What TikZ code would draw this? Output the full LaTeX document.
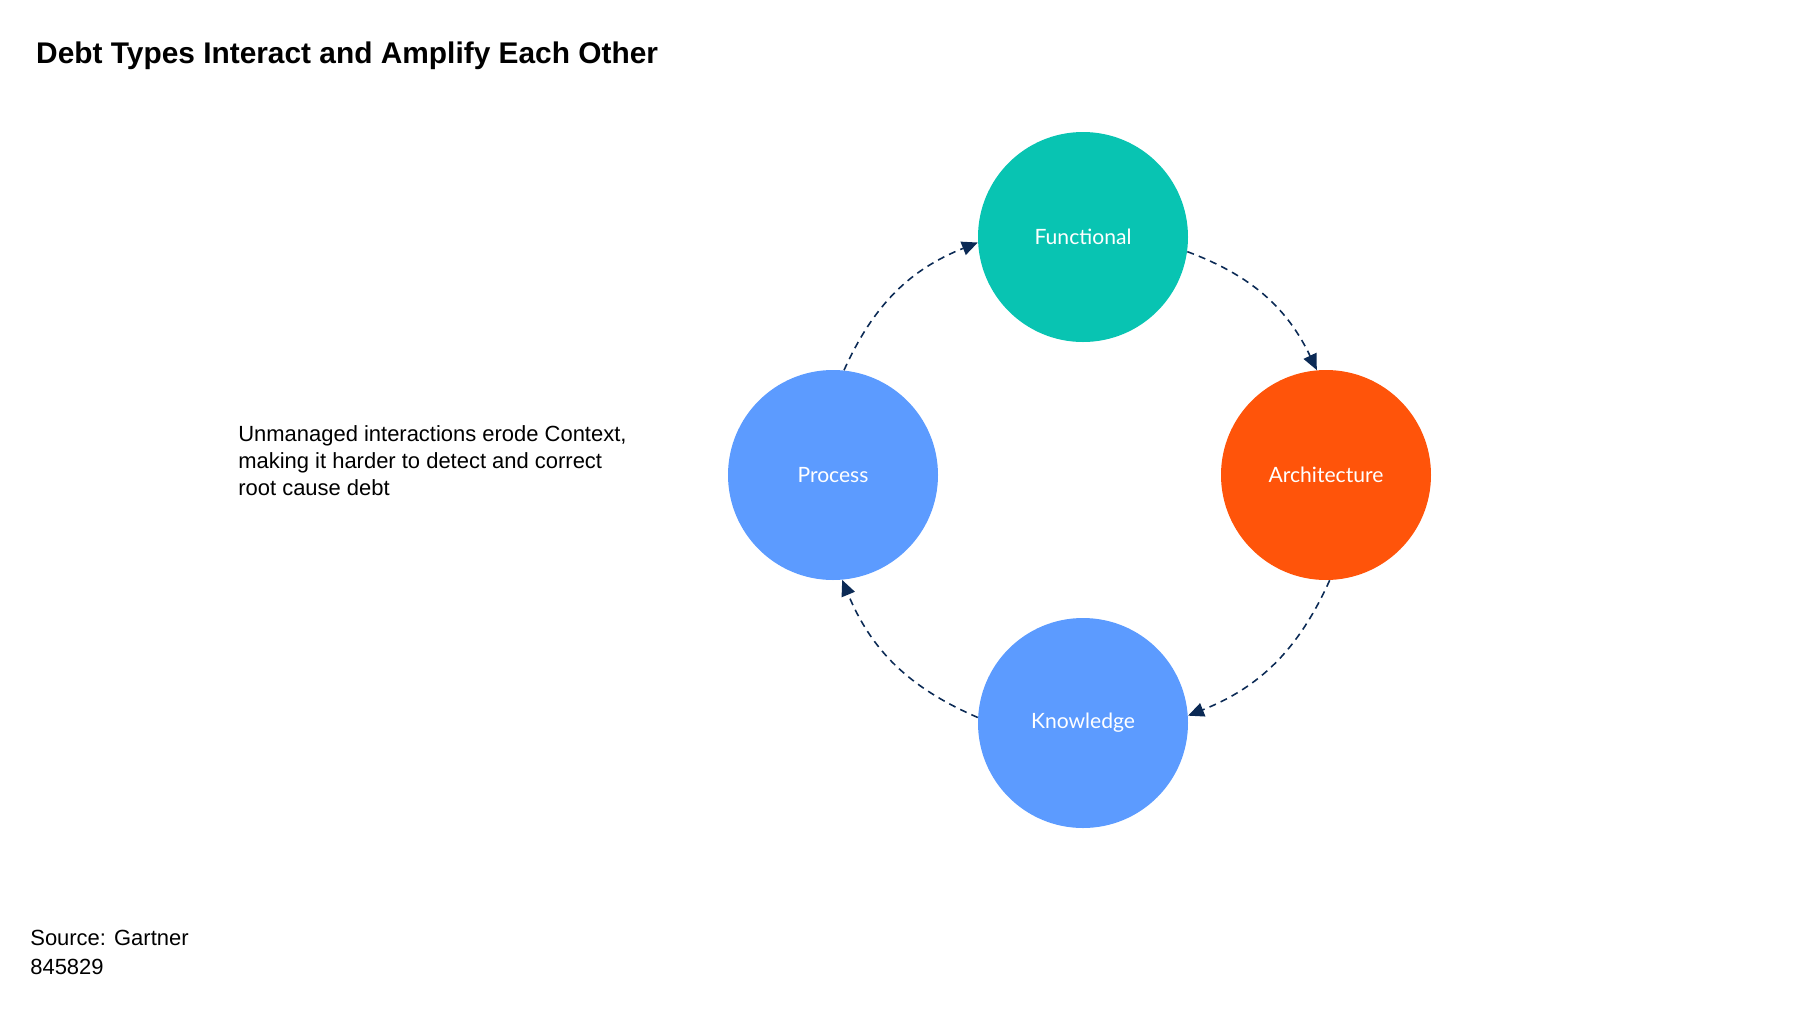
\documentclass[tikz,border=0pt]{standalone}
\usepackage{fontspec}
\setmainfont{Liberation Sans}
\newfontfamily\labelfont{Lato}
\usetikzlibrary{arrows.meta}
\definecolor{tealc}{HTML}{08C4B2}
\definecolor{orangec}{HTML}{FF540A}
\definecolor{bluec}{HTML}{5C9BFF}
\definecolor{navyc}{HTML}{0B2A55}
\tikzset{
  debt/.style={circle, minimum size=210*0.02cm, inner sep=0pt, text=white, font=\labelfont\fontsize{12}{14}\selectfont},
  link/.style={navyc, dashed, line width=0.9pt, dash pattern=on 4pt off 3pt, -{Triangle[length=9pt,width=8pt]}}
}
\begin{document}
\begin{tikzpicture}[x=0.02cm, y=-0.02cm]
  \useasboundingbox (0,0) rectangle (1800,1012);
  % Nodes
  \node (title) [anchor=base west, font=\bfseries\fontsize{17}{20}\selectfont] at (30,63) {Debt Types Interact and Amplify Each Other};
  \node (functional) [debt, fill=tealc] at (1083,237) {Functional};
  \node (architecture) [debt, fill=orangec] at (1326,475) {Architecture};
  \node (process) [debt, fill=bluec] at (833,475) {Process};
  \node (knowledge) [debt, fill=bluec] at (1083,723) {Knowledge};
  \node (note) [anchor=north west, align=left, inner sep=0pt, font=\fontsize{12.5}{15.5}\selectfont] at (238,425) {Unmanaged interactions erode Context,\\making it harder to detect and correct\\root cause debt};
  \node (source) [anchor=north west, align=left, inner sep=0pt, font=\fontsize{12.5}{16.5}\selectfont] at (30,930) {Source: Gartner\\845829};
  % Arrows
  \draw[link] (process.84) to[bend left=22] (functional.183);
  \draw[link] (functional.-8) to[bend left=22] (architecture.95);
  \draw[link] (architecture.-88) to[bend left=22] (knowledge.4);
  \draw[link] (knowledge.177) to[bend left=22] (process.-85);
\end{tikzpicture}
\end{document}
